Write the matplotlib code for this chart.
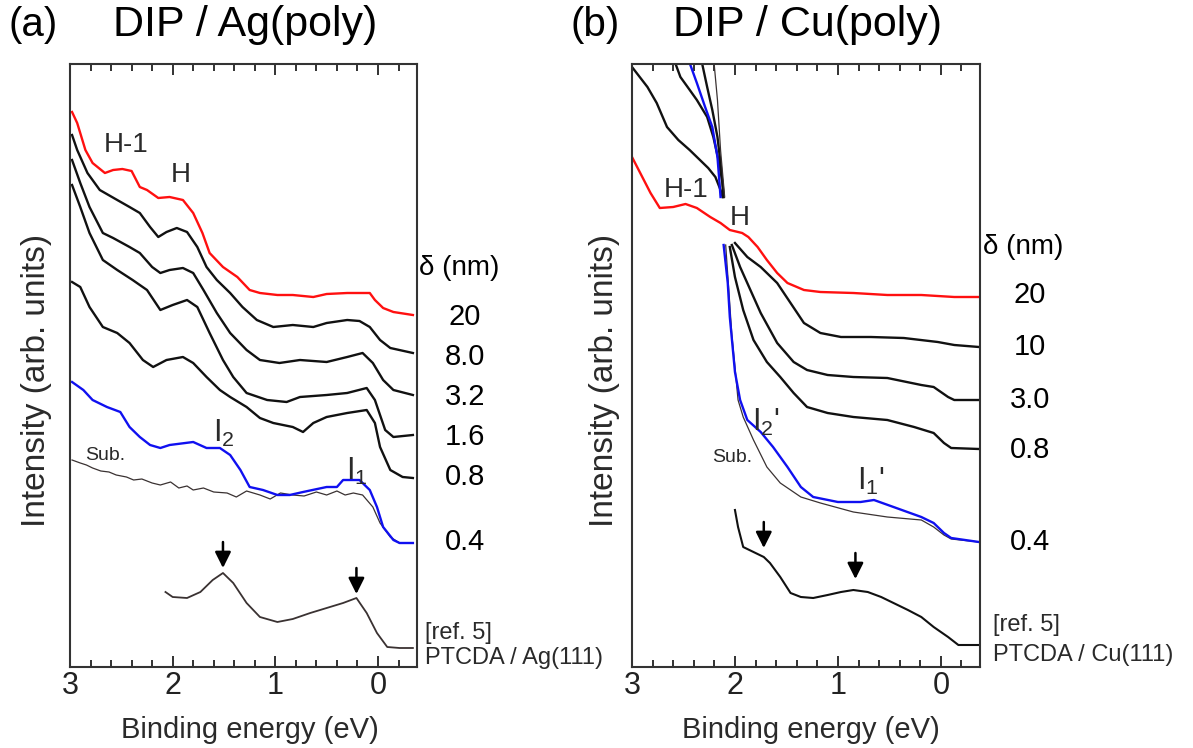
import matplotlib
matplotlib.use("Agg")
import matplotlib.pyplot as plt
from matplotlib.ticker import MultipleLocator

plt.rcParams['font.family'] = ['Liberation Sans', 'DejaVu Sans']
plt.rcParams['mathtext.fontset'] = 'custom'
plt.rcParams['mathtext.rm'] = 'Liberation Sans'
plt.rcParams['mathtext.it'] = 'Liberation Sans'

W, H = 1193, 748

# ---- (a) DIP / Ag(poly): binding energy (eV) and intensity (arb. units)
ag_e20 = [2.98, 2.93, 2.85, 2.78, 2.66, 2.58, 2.49, 2.40, 2.32, 2.25, 2.14, 2.03, 1.90, 1.80, 1.71,
          1.64, 1.51, 1.37, 1.25, 1.15, 0.98, 0.83, 0.63, 0.50, 0.30, 0.08, 0.03, -0.05, -0.15, -0.34]
ag_i20 = [555, 544, 517, 504, 494, 497, 498, 496, 480, 477, 469, 470, 467, 454, 434,
          414, 400, 390, 377, 374, 372, 372, 370, 373, 374, 374, 367, 359, 355, 352]

ag_e8 = [2.98, 2.93, 2.83, 2.71, 2.54, 2.42, 2.32, 2.22, 2.14, 2.06, 1.96, 1.86, 1.76, 1.67,
         1.57, 1.44, 1.32, 1.18, 1.02, 0.83, 0.63, 0.50, 0.30, 0.18, 0.08, -0.02, -0.12, -0.34]
ag_i8 = [532, 517, 494, 477, 467, 460, 454, 440, 430, 435, 439, 435, 420, 400,
         387, 374, 360, 347, 340, 342, 340, 344, 347, 346, 340, 327, 319, 314]

ag_e32 = [2.98, 2.90, 2.81, 2.68, 2.58, 2.42, 2.32, 2.20, 2.12, 2.03, 1.90, 1.80, 1.70,
          1.57, 1.44, 1.28, 1.15, 0.96, 0.76, 0.50, 0.30, 0.15, 0.05, -0.05, -0.15, -0.34]
ag_i32 = [507, 484, 460, 434, 429, 420, 414, 400, 394, 397, 399, 394, 377,
          354, 334, 317, 307, 304, 307, 305, 310, 314, 304, 287, 277, 272]

ag_e16 = [2.98, 2.90, 2.81, 2.68, 2.54, 2.39, 2.25, 2.12, 2.00, 1.86, 1.76, 1.64, 1.51,
          1.41, 1.28, 1.08, 0.89, 0.76, 0.50, 0.30, 0.11, 0.03, -0.07, -0.15, -0.34]
ag_i16 = [482, 460, 434, 407, 397, 387, 377, 357, 362, 367, 360, 334, 307,
          290, 274, 267, 265, 270, 272, 274, 279, 267, 237, 230, 232]

ag_e08 = [2.98, 2.90, 2.81, 2.68, 2.54, 2.42, 2.29, 2.19, 2.06, 1.90, 1.80, 1.67, 1.54, 1.44,
          1.28, 1.15, 1.02, 0.83, 0.73, 0.63, 0.50, 0.30, 0.11, 0.03, -0.02, -0.12, -0.24, -0.34]
ag_i08 = [385, 380, 360, 340, 334, 324, 307, 300, 307, 310, 304, 290, 277, 270,
          260, 249, 244, 240, 235, 244, 250, 254, 257, 244, 220, 197, 190, 189]

ag_e04 = [2.98, 2.87, 2.78, 2.64, 2.51, 2.42, 2.32, 2.22, 2.12, 2.03, 1.80, 1.67, 1.54, 1.44, 1.34,
          1.25, 1.12, 0.98, 0.86, 0.73, 0.50, 0.40, 0.34, 0.18, 0.08, 0.01, -0.05, -0.15, -0.21, -0.34]
ag_i04 = [285, 277, 267, 260, 255, 240, 230, 222, 219, 222, 225, 219, 219, 212, 197,
          180, 177, 172, 172, 175, 180, 180, 187, 187, 177, 160, 140, 127, 124, 124]

ag_esub = [2.98, 2.90, 2.84, 2.78, 2.70, 2.62, 2.55, 2.45, 2.38, 2.30, 2.20, 2.12, 2.02, 1.94,
           1.86, 1.80, 1.70, 1.60, 1.47, 1.38, 1.28, 1.15, 1.05, 0.95, 0.83, 0.72, 0.60, 0.50,
           0.40, 0.32, 0.24, 0.15, 0.05, -0.02, -0.12, -0.21, -0.34]
ag_isub = [207, 204, 202, 199, 196, 195, 192, 190, 187, 188, 184, 182, 185, 179,
           181, 177, 179, 175, 174, 170, 176, 172, 168, 174, 172, 171, 175, 172,
           176, 172, 174, 172, 160, 144, 130, 124, 124]

ag_eref = [2.07, 2.00, 1.86, 1.73, 1.61, 1.51, 1.41, 1.28, 1.15, 0.98, 0.83, 0.66,
           0.50, 0.34, 0.21, 0.11, 0.01, -0.09, -0.21, -0.34]
ag_iref = [75, 70, 69, 75, 87, 94, 84, 64, 50, 45, 48, 54,
           59, 64, 69, 54, 34, 20, 19, 19]
ag_arrow_e = [1.51, 0.21]
ag_arrow_i = [99, 73]

ag_thick = ['20', '8.0', '3.2', '1.6', '0.8', '0.4']

# ---- (b) DIP / Cu(poly)
cu_e20 = [3.00, 2.92, 2.82, 2.73, 2.60, 2.48, 2.37, 2.24, 2.14, 2.05, 1.93, 1.87,
          1.78, 1.69, 1.59, 1.49, 1.33, 1.17, 0.85, 0.52, 0.19, -0.13, -0.37]
cu_i20 = [510, 494, 474, 459, 460, 463, 459, 450, 444, 437, 434, 430,
          420, 407, 394, 384, 377, 375, 374, 372, 372, 370, 370]

# upper parts (above the cut near 2.1 eV)
cu_e10_up = [3.00, 2.85, 2.76, 2.66, 2.55, 2.44, 2.34, 2.26, 2.19, 2.14, 2.12]
cu_i10_up = [600, 580, 564, 540, 527, 517, 507, 499, 490, 477, 470]
cu_e3_up = [2.61, 2.58, 2.53, 2.46, 2.37, 2.27, 2.21, 2.16, 2.12, 2.11]
cu_i3_up = [612, 604, 590, 580, 567, 550, 530, 507, 484, 470]
cu_e04_up = [2.45, 2.44, 2.37, 2.29, 2.22, 2.17, 2.15, 2.14]
cu_i04_up = [612, 604, 584, 560, 540, 510, 484, 470]
cu_e08_up = [2.33, 2.32, 2.27, 2.22, 2.17, 2.14, 2.11]
cu_i08_up = [612, 604, 580, 557, 530, 504, 470]
cu_esub_up = [2.21, 2.17, 2.14, 2.10]
cu_isub_up = [612, 567, 517, 470]

# lower parts
cu_e10 = [2.00, 1.88, 1.75, 1.59, 1.46, 1.33, 1.17, 0.97, 0.68, 0.36, 0.03, -0.13, -0.37]
cu_i10 = [424, 410, 400, 384, 364, 344, 334, 330, 330, 329, 325, 322, 320]
cu_e3 = [2.03, 1.95, 1.85, 1.75, 1.59, 1.43, 1.30, 1.10, 0.85, 0.52, 0.19, 0.07, -0.07, -0.13, -0.37]
cu_i3 = [422, 400, 377, 354, 324, 305, 297, 292, 290, 289, 282, 280, 270, 267, 267]
cu_e08 = [2.05, 2.00, 1.92, 1.82, 1.69, 1.56, 1.43, 1.30, 1.10, 0.85, 0.52, 0.26, 0.07, -0.03, -0.10, -0.37]
cu_i08 = [420, 390, 357, 327, 305, 290, 274, 260, 254, 250, 247, 240, 234, 224, 219, 218]
cu_e04 = [2.11, 2.07, 2.05, 2.00, 1.95, 1.88, 1.75, 1.63, 1.49, 1.36, 1.24, 1.00, 0.78, 0.65,
          0.46, 0.19, 0.07, -0.03, -0.10, -0.37]
cu_i04 = [422, 384, 350, 295, 267, 247, 235, 220, 200, 180, 170, 165, 165, 167,
          160, 150, 144, 134, 129, 125]
cu_esub = [2.09, 2.06, 2.03, 2.00, 1.97, 1.92, 1.82, 1.69, 1.56, 1.36, 1.17, 0.85, 0.52, 0.19,
           0.07, -0.03, -0.10, -0.37]
cu_isub = [422, 377, 332, 300, 267, 250, 227, 200, 184, 170, 164, 155, 150, 147,
           140, 132, 128, 125]

cu_eref = [2.00, 1.97, 1.92, 1.82, 1.72, 1.66, 1.56, 1.46, 1.36, 1.24, 1.10, 0.97, 0.85,
           0.71, 0.58, 0.46, 0.32, 0.19, 0.07, -0.07, -0.17, -0.37]
cu_iref = [157, 140, 120, 115, 110, 104, 90, 74, 70, 69, 72, 75, 77,
           75, 70, 64, 57, 50, 40, 30, 22, 22]
cu_arrow_e = [1.72, 0.83]
cu_arrow_i = [119, 88]

cu_thick = ['20', '10', '3.0', '0.8', '0.4']

RED = '#ff1010'
BLUE = '#1010f0'
BLK = '#111111'
SUBC = '#3a3232'
TXT = '#2a2a2a'


def setup(ax):
    ax.set_xlim(3, -0.38)
    ax.set_ylim(0, 603)
    ax.set_yticks([])
    ax.xaxis.set_major_locator(MultipleLocator(1))
    ax.xaxis.set_minor_locator(MultipleLocator(0.2))
    ax.tick_params(axis='x', which='both', direction='in', top=True, bottom=True,
                   width=1.3, colors='#222222', labelsize=22, pad=3)
    ax.tick_params(axis='x', which='major', length=8)
    ax.tick_params(axis='x', which='minor', length=5)
    for s in ax.spines.values():
        s.set_linewidth(1.5)
        s.set_color('#333333')


def arrows(ax, es, ys):
    for e, y in zip(es, ys):
        ax.annotate('', xy=(e, y), xytext=(e, y + 26),
                    arrowprops=dict(arrowstyle='-|>', color='black', lw=1.8,
                                    mutation_scale=24, shrinkA=0, shrinkB=0))


def fxy(px, py):
    return px / W, 1 - py / H


fig = plt.figure(figsize=(W / 100, H / 100), dpi=100)
ax_a = fig.add_axes([70 / W, 81 / H, 347 / W, 603 / H])
ax_b = fig.add_axes([632 / W, 81 / H, 348 / W, 603 / H])

# panel (a)
setup(ax_a)
ax_a.plot(ag_e20, ag_i20, color=RED, lw=1.7)
for e, i in [(ag_e8, ag_i8), (ag_e32, ag_i32), (ag_e16, ag_i16), (ag_e08, ag_i08)]:
    ax_a.plot(e, i, color=BLK, lw=1.7)
ax_a.plot(ag_esub, ag_isub, color=SUBC, lw=0.9)
ax_a.plot(ag_e04, ag_i04, color=BLUE, lw=1.7)
ax_a.plot(ag_eref, ag_iref, color=SUBC, lw=1.3)
arrows(ax_a, ag_arrow_e, ag_arrow_i)
ax_a.text(2.45, 522, 'H-1', fontsize=20, color=TXT, ha='center', va='center')
ax_a.text(1.92, 492, 'H', fontsize=20, color=TXT, ha='center', va='center')
ax_a.text(1.50, 234, r'$\mathrm{I}_2$', fontsize=22, color=TXT, ha='center', va='center')
ax_a.text(0.21, 196, r'$\mathrm{I}_1$', fontsize=22, color=TXT, ha='center', va='center')
ax_a.text(2.66, 211, 'Sub.', fontsize=14, color=TXT, ha='center', va='center')

# panel (b)
setup(ax_b)
ax_b.plot(cu_e20, cu_i20, color=RED, lw=1.7)
for e, i in [(cu_e10_up, cu_i10_up), (cu_e3_up, cu_i3_up), (cu_e08_up, cu_i08_up),
             (cu_e10, cu_i10), (cu_e3, cu_i3), (cu_e08, cu_i08)]:
    ax_b.plot(e, i, color=BLK, lw=1.7)
ax_b.plot(cu_esub_up, cu_isub_up, color=SUBC, lw=0.9)
ax_b.plot(cu_esub, cu_isub, color=SUBC, lw=0.9)
ax_b.plot(cu_e04_up, cu_i04_up, color=BLUE, lw=1.7)
ax_b.plot(cu_e04, cu_i04, color=BLUE, lw=1.7)
ax_b.plot(cu_eref, cu_iref, color=BLK, lw=1.5)
arrows(ax_b, cu_arrow_e, cu_arrow_i)
ax_b.text(2.47, 477, 'H-1', fontsize=20, color=TXT, ha='center', va='center')
ax_b.text(1.95, 449, 'H', fontsize=20, color=TXT, ha='center', va='center')
ax_b.text(1.70, 245, r'$\mathrm{I}_2$' + "'", fontsize=22, color=TXT, ha='center', va='center')
ax_b.text(0.68, 186, r'$\mathrm{I}_1$' + "'", fontsize=22, color=TXT, ha='center', va='center')
ax_b.text(2.03, 209, 'Sub.', fontsize=14, color=TXT, ha='center', va='center')

# titles and axis labels
fig.text(*fxy(33, 25), '(a)', fontsize=29, ha='center', va='center')
fig.text(*fxy(113, 25), 'DIP / Ag(poly)', fontsize=31, ha='left', va='center')
fig.text(*fxy(595, 25), '(b)', fontsize=29, ha='center', va='center')
fig.text(*fxy(673, 25), 'DIP / Cu(poly)', fontsize=31, ha='left', va='center')
for cx in [250, 811]:
    fig.text(*fxy(cx, 730), 'Binding energy (eV)', fontsize=21, color=TXT, ha='center', va='center')
for cx in [37, 605]:
    fig.text(*fxy(cx, 380), 'Intensity (arb. units)', fontsize=24, color=TXT,
             rotation=90, ha='center', va='center')

# thickness labels
fig.text(*fxy(459, 268), 'δ (nm)', fontsize=20, ha='center', va='center')
for lab, py in zip(ag_thick, [317, 357, 397, 437, 477, 542]):
    fig.text(*fxy(465, py), lab, fontsize=21, ha='center', va='center')
fig.text(*fxy(425, 633), '[ref. 5]', fontsize=17, color=TXT, ha='left', va='center')
fig.text(*fxy(425, 658), 'PTCDA / Ag(111)', fontsize=17, color=TXT, ha='left', va='center')

fig.text(*fxy(1023, 247), 'δ (nm)', fontsize=20, ha='center', va='center')
for lab, py in zip(cu_thick, [295, 347, 400, 450, 542]):
    fig.text(*fxy(1030, py), lab, fontsize=21, ha='center', va='center')
fig.text(*fxy(993, 625), '[ref. 5]', fontsize=17, color=TXT, ha='left', va='center')
fig.text(*fxy(993, 655), 'PTCDA / Cu(111)', fontsize=17, color=TXT, ha='left', va='center')

fig.savefig('out.png', dpi=100)
